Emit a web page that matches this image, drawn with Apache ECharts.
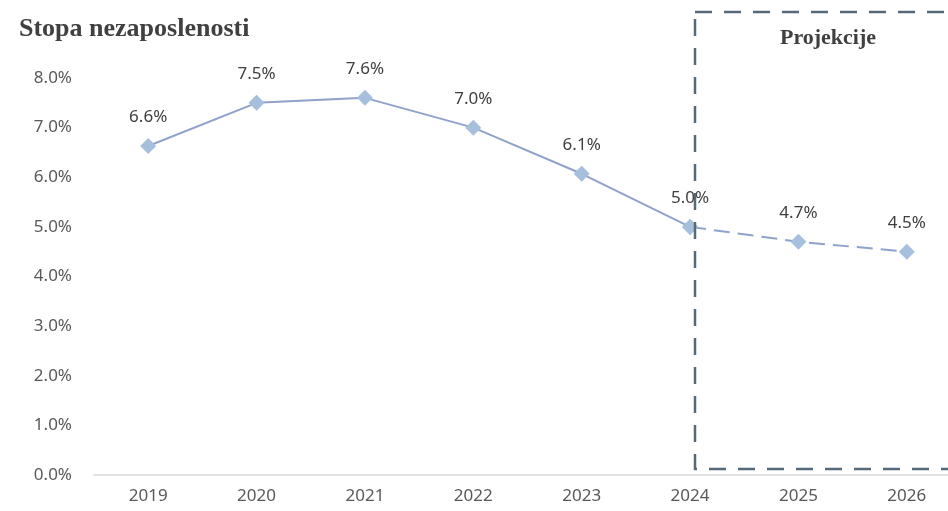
<!DOCTYPE html>
<html>
<head>
<meta charset="utf-8">
<script src="https://cdn.jsdelivr.net/npm/echarts@6/dist/echarts.min.js"></script>
<style>
  html, body { margin: 0; padding: 0; background: #fff; overflow: hidden; }
  /* the plot runs past the right edge of the window, like in the original */
  #chart { width: 975px; height: 511px; }
</style>
</head>
<body>
<div id="chart"></div>
<script>
  // godine i stopa nezaposlenosti (%)
  var years = ['2019', '2020', '2021', '2022', '2023', '2024', '2025', '2026']
  var actual = [6.63, 7.5, 7.6, 7.0, 6.07, 5.0, null, null]
  var projected = [null, null, null, null, null, 5.0, 4.7, 4.5]
  var yTicks = [0, 1, 2, 3, 4, 5, 6, 7, 8]

  var lineColor = '#8fa2cb'
  var markerColor = '#a5bfdd'
  var labelFont = { color: '#404040', fontSize: 17, fontFamily: 'Noto Sans' }

  var chart = echarts.init(document.getElementById('chart'))
  var option = {
    animation: false,
    grid: { left: 94, top: 78, width: 867, height: 397 },
    title: {
      text: 'Stopa nezaposlenosti',
      left: 14, top: 11,
      textStyle: { fontFamily: 'Liberation Serif', fontWeight: 'bold', fontSize: 26, color: '#404040' }
    },
    xAxis: {
      type: 'category',
      data: years,
      boundaryGap: true,
      axisLine: { lineStyle: { color: '#d9d9d9', width: 1.5 } },
      axisTick: { show: false },
      axisLabel: { color: '#595959', fontSize: 17, fontFamily: 'Noto Sans', margin: 13 }
    },
    yAxis: {
      type: 'value',
      min: yTicks[0],
      max: yTicks[yTicks.length - 1],
      interval: 1,
      splitLine: { show: false },
      axisLine: { show: false },
      axisTick: { show: false },
      axisLabel: {
        color: '#595959', fontSize: 17, fontFamily: 'Noto Sans', margin: 22,
        formatter: function (v) { return v.toFixed(1) + '%' }
      }
    },
    series: [
      {
        type: 'line',
        data: actual,
        symbol: 'diamond',
        symbolSize: 16,
        itemStyle: { color: markerColor },
        lineStyle: { color: lineColor, width: 2 },
        label: {
          show: true, position: 'top', distance: 12,
          formatter: function (p) { return p.value.toFixed(1) + '%' },
          color: labelFont.color, fontSize: labelFont.fontSize, fontFamily: labelFont.fontFamily
        },
        z: 3
      },
      {
        type: 'line',
        data: projected,
        symbol: 'diamond',
        symbolSize: 16,
        itemStyle: { color: markerColor },
        lineStyle: { color: lineColor, width: 2, type: [16, 8] },
        label: {
          show: true, position: 'top', distance: 12,
          formatter: function (p) { return p.dataIndex === 5 ? '' : p.value.toFixed(1) + '%' },
          color: labelFont.color, fontSize: labelFont.fontSize, fontFamily: labelFont.fontFamily
        },
        z: 2
      }
    ],
    graphic: [
      {
        type: 'rect',
        shape: { x: 695, y: 12, width: 280, height: 457 },
        style: { fill: 'none', stroke: '#56697b', lineWidth: 2.5, lineDash: [17, 12] },
        z: 10
      },
      {
        type: 'text',
        x: 828, y: 38,
        style: {
          text: 'Projekcije', align: 'center', verticalAlign: 'middle',
          font: 'bold 22px "Liberation Serif"', fill: '#404040'
        },
        z: 10
      }
    ]
  }
  chart.setOption(option)
</script>
</body>
</html>
